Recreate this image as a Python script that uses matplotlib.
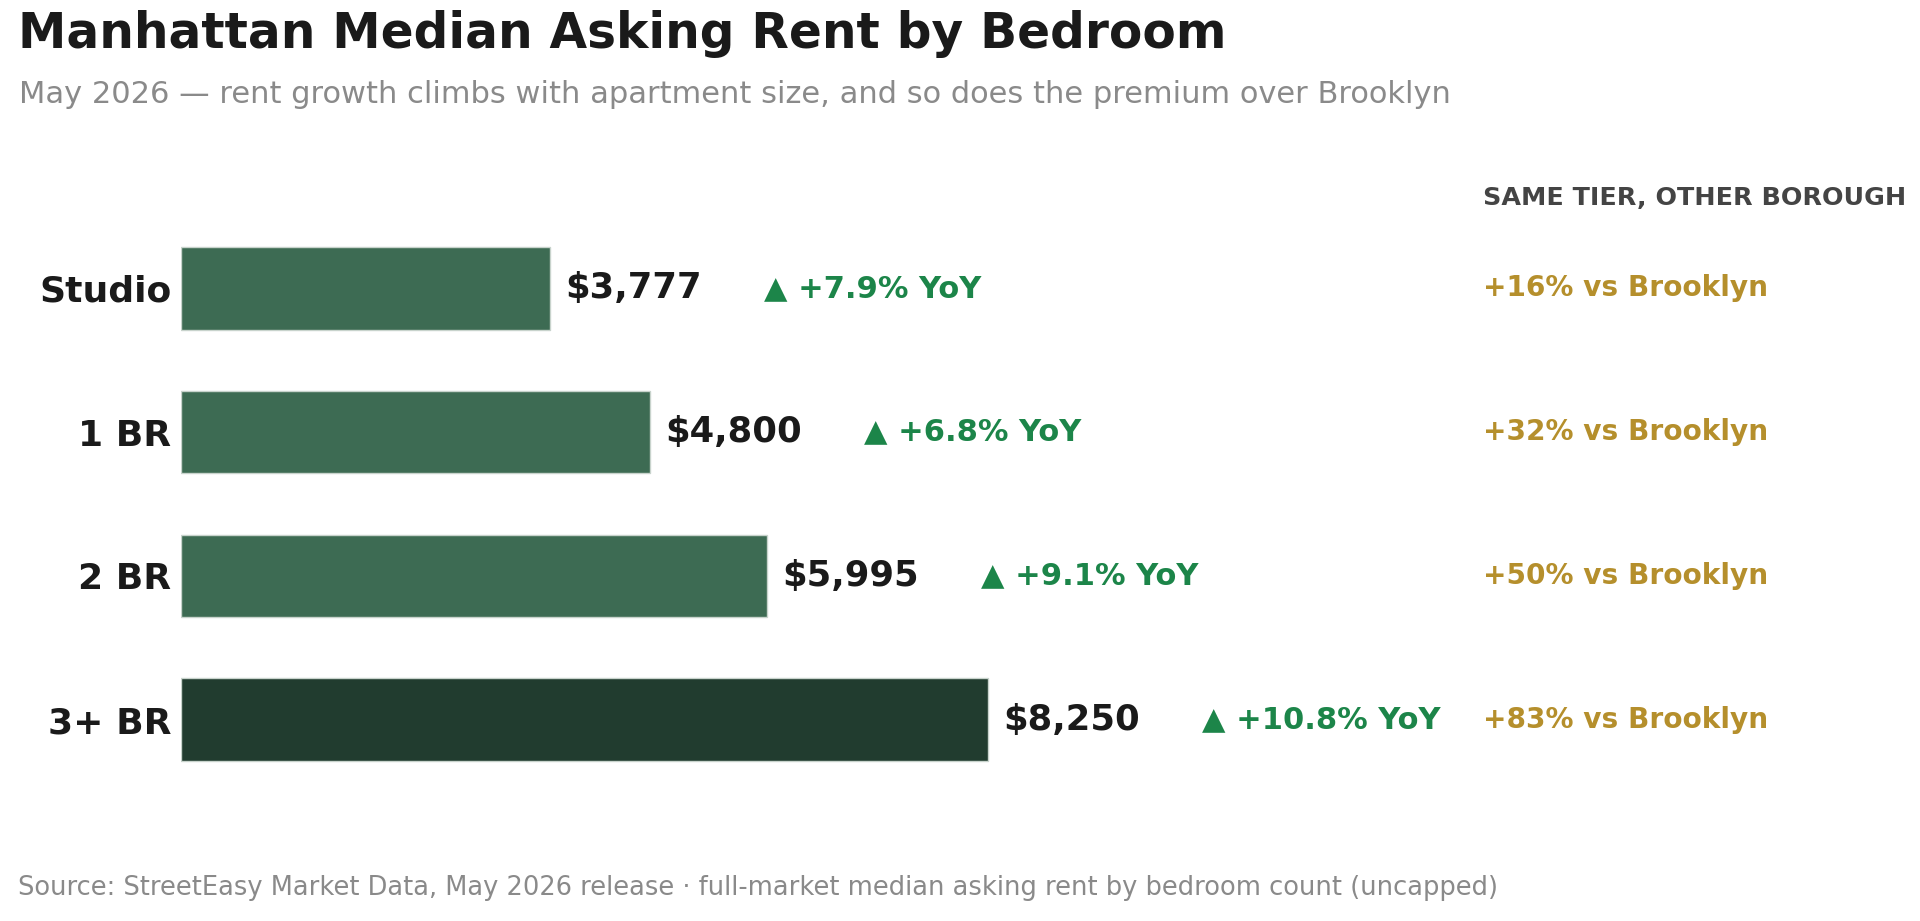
import numpy as np
import matplotlib.pyplot as plt
from matplotlib import transforms

# Dati
categories = ["Studio", "1 BR", "2 BR", "3+ BR"]
rents = [3777, 4800, 5995, 8250]
yoy = [7.9, 6.8, 9.1, 10.8]
vs_brooklyn = [16, 32, 50, 83]

bar_color = "#3d6b53"
top_color = "#213c2f"
green = "#1c8549"
gold = "#b58f2c"
ink = "#1a1a1a"

fig = plt.figure(figsize=(19.2, 9.21), dpi=100)
ax = fig.add_axes([181 / 1920, 1 - 806 / 921, 1700 / 1920, 604 / 921])

y = np.arange(len(categories))
colors = [bar_color] * (len(categories) - 1) + [top_color]
ax.barh(y, rents, height=0.575, color=colors, edgecolor="#c8d3cc", linewidth=1)

ax.set_xlim(0, 1700 / 0.0978)
ax.set_ylim(3.6, -0.6)
ax.set_yticks(y)
ax.set_yticklabels(categories, fontsize=26, fontweight="bold", color=ink)
ax.tick_params(axis="y", length=0, pad=7)
ax.set_xticks([])
for s in ax.spines.values():
    s.set_visible(False)

# Etichette valori e variazione annua
for i, (r, g) in enumerate(zip(rents, yoy)):
    ax.annotate(f"${r:,}", (r, i), xytext=(11, 0), textcoords="offset points",
                va="center", ha="left", fontsize=25.5, fontweight="bold", color=ink)
    ax.annotate(f"\u25b2 +{g}% YoY", (r, i), xytext=(154, 0), textcoords="offset points",
                va="center", ha="left", fontsize=22, fontweight="bold", color=green)

# Colonna confronto con Brooklyn
tr = transforms.blended_transform_factory(fig.transFigure, ax.transData)
bx = 1483 / 1920
ax.text(bx, -0.625, "SAME TIER, OTHER BOROUGH", transform=tr, va="center", ha="left",
        fontsize=18.3, fontweight="bold", color="#444444", clip_on=False)
for i, p in enumerate(vs_brooklyn):
    ax.text(bx, i, f"+{p}% vs Brooklyn", transform=tr, va="center", ha="left",
            fontsize=20.2, fontweight="bold", color=gold, clip_on=False)

fig.text(18 / 1920, 1 - 48 / 921, "Manhattan Median Asking Rent by Bedroom",
         fontsize=35, fontweight="bold", color=ink, va="baseline")
fig.text(19 / 1920, 1 - 103 / 921,
         "May 2026 \u2014 rent growth climbs with apartment size, and so does the premium over Brooklyn",
         fontsize=22, color="#8a8a8a", va="baseline")
fig.text(18 / 1920, 1 - 895 / 921,
         "Source: StreetEasy Market Data, May 2026 release \u00b7 full-market median asking rent by bedroom count (uncapped)",
         fontsize=18.5, color="#8a8a8a", va="baseline")

fig.savefig("out.png", dpi=100, facecolor="white")
